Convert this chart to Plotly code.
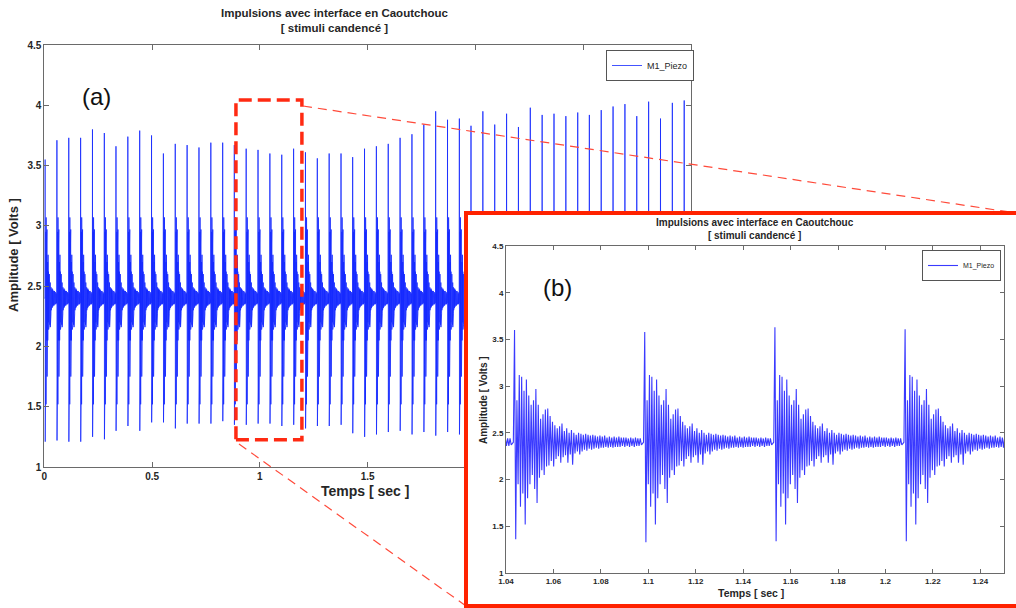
import plotly.graph_objects as go

# ---------------- data ----------------
# main chart (a): onset time, spike maximum and spike minimum of each impulse
pulse_times = [0.003, 0.058, 0.113, 0.168, 0.223, 0.278, 0.332, 0.387, 0.442, 0.497,
               0.552, 0.607, 0.662, 0.717, 0.772, 0.827, 0.881, 0.936, 0.991, 1.046,
               1.101, 1.156, 1.211, 1.266, 1.321, 1.376, 1.430, 1.485, 1.540, 1.595,
               1.650, 1.705, 1.760, 1.815, 1.870, 1.925, 1.979, 2.034, 2.089, 2.144,
               2.199, 2.254, 2.309, 2.364, 2.419, 2.474, 2.528, 2.583, 2.638, 2.693,
               2.748, 2.803, 2.858, 2.913, 2.968]
pulse_tops = [3.55, 3.71, 3.73, 3.73, 3.80, 3.77, 3.66, 3.74, 3.79, 3.75,
              3.60, 3.68, 3.67, 3.65, 3.69, 3.69, 3.67, 3.64, 3.63, 3.60,
              3.59, 3.64, 3.61, 3.56, 3.60, 3.60, 3.57, 3.64, 3.66, 3.68,
              3.73, 3.76, 3.84, 3.95, 3.88, 3.89, 3.83, 3.95, 3.84, 3.93,
              3.82, 3.98, 3.92, 3.93, 3.91, 3.94, 3.92, 3.96, 3.99, 4.01,
              3.91, 4.03, 3.89, 4.02, 4.04]
pulse_bottoms = [1.21, 1.22, 1.21, 1.21, 1.25, 1.23, 1.30, 1.34, 1.30, 1.37,
                 1.37, 1.32, 1.36, 1.36, 1.36, 1.38, 1.35, 1.35, 1.36, 1.36,
                 1.34, 1.35, 1.32, 1.34, 1.34, 1.35, 1.28, 1.25, 1.27, 1.29,
                 1.30, 1.27, 1.29, 1.26, 1.29, 1.27, 1.27, 1.25, 1.28, 1.24,
                 1.26, 1.25, 1.23, 1.27, 1.24, 1.25, 1.22, 1.26, 1.24, 1.23,
                 1.25, 1.22, 1.24, 1.21, 1.23]

# zoomed chart (b): impulses visible in the 1.04 - 1.25 s window
inset_pulse_times = [0.9882, 1.0431, 1.0980, 1.1529, 1.2078]
inset_tops = [3.60, 3.60, 3.58, 3.63, 3.61]
inset_bottoms = [1.35, 1.36, 1.33, 1.34, 1.34]

# ringing after one impulse (b), one value every 0.5 ms (Volts)
ring_step = 0.0005
ring_values = [2.40, 3.60, 1.36, 2.85, 1.95, 3.12, 1.71, 3.10, 1.85, 2.95,
               1.52, 3.07, 1.80, 2.90, 1.95, 2.80, 2.05, 2.85, 1.90, 2.97,
               1.75, 2.80, 2.02, 2.65, 2.10, 2.70, 2.05, 2.75, 2.14, 2.76,
               2.15, 2.68, 2.20, 2.62, 2.14, 2.58, 2.22, 2.55, 2.25, 2.57,
               2.18, 2.60, 2.24, 2.52, 2.26, 2.55, 2.18, 2.50, 2.27, 2.53,
               2.16, 2.50, 2.28, 2.48, 2.30, 2.50, 2.27, 2.49, 2.30, 2.48,
               2.32, 2.49, 2.31, 2.48, 2.33, 2.47, 2.32, 2.48, 2.33, 2.47,
               2.34, 2.46, 2.33, 2.47, 2.34, 2.46, 2.34, 2.47, 2.35, 2.45,
               2.34, 2.46, 2.35, 2.45, 2.34, 2.46, 2.35, 2.45, 2.35, 2.46,
               2.35, 2.45, 2.36, 2.45, 2.35, 2.45, 2.36, 2.44, 2.35, 2.45,
               2.36, 2.44, 2.35, 2.45, 2.36, 2.44, 2.36, 2.44, 2.37]
baseline = 2.40

main_x_ticks = [0, 0.5, 1, 1.5, 2, 2.5, 3]
main_x_labels = ["0", "0.5", "1", "1.5", "2", "2.5", "3"]
y_ticks = [1, 1.5, 2, 2.5, 3, 3.5, 4, 4.5]
y_labels = ["1", "1.5", "2", "2.5", "3", "3.5", "4", "4.5"]
inset_x_ticks = [1.04, 1.06, 1.08, 1.10, 1.12, 1.14, 1.16, 1.18, 1.20, 1.22, 1.24]
inset_x_labels = ["1.04", "1.06", "1.08", "1.1", "1.12", "1.14", "1.16", "1.18", "1.2", "1.22", "1.24"]

title_lines = ["Impulsions avec interface en Caoutchouc", "[ stimuli candencé ]"]
series_name = "M1_Piezo"


def build_signal(times, tops, bottoms, start):
    xs, ys = [start], [baseline]
    for i, (t, top, bot) in enumerate(zip(times, tops, bottoms)):
        nxt = times[i + 1] if i + 1 < len(times) else None
        vals = list(ring_values)
        vals[1], vals[2] = top, bot
        for n, v in enumerate(vals):
            tt = t + n * ring_step
            if nxt is not None and tt >= nxt:
                break
            xs.append(tt)
            ys.append(v)
    return xs, ys


mx, my = build_signal(pulse_times, pulse_tops, pulse_bottoms, 0.0)
ix, iy = build_signal(inset_pulse_times, inset_tops, inset_bottoms, 0.98)

W, H = 1016, 608
def px(x):
    return x / W
def py(y):
    return 1 - y / H

NARROW = "Liberation Sans Narrow, Arial Narrow, Liberation Sans, Arial, sans-serif"
SANS = "Liberation Sans, Arial, sans-serif"
TXT = "#262626"
AX = "#6a6a6a"

fig = go.Figure()
fig.add_trace(go.Scatter(x=mx, y=my, mode="lines", name=series_name,
                         line=dict(color="#1428ff", width=0.8),
                         xaxis="x", yaxis="y", legend="legend", hoverinfo="skip"))
# white panel that carries the zoomed view
fig.add_trace(go.Scatter(x=[-1, 2, 2, -1, -1], y=[-1, -1, 2, 2, -1], mode="lines",
                         fill="toself", fillcolor="white", line=dict(width=0, color="white"),
                         xaxis="x2", yaxis="y2", showlegend=False, hoverinfo="skip"))
fig.add_trace(go.Scatter(x=ix, y=iy, mode="lines", name=series_name,
                         line=dict(color="#3a3aff", width=1.1),
                         xaxis="x3", yaxis="y3", legend="legend2", hoverinfo="skip"))

axis_common = dict(showgrid=False, zeroline=False, showline=True, linecolor=AX, linewidth=1,
                   mirror="allticks", ticks="inside", tickcolor=AX, automargin=False)

fig.update_layout(
    width=W, height=H, margin=dict(l=0, r=0, t=0, b=0, autoexpand=False),
    paper_bgcolor="white", plot_bgcolor="white",
    xaxis=dict(domain=[px(44.3), px(691)], range=[0, 3], anchor="y",
               tickvals=main_x_ticks, ticktext=main_x_labels, ticklen=5,
               tickfont=dict(family=NARROW, size=10, color=TXT, weight="bold"), **axis_common),
    yaxis=dict(domain=[py(467), py(45)], range=[1, 4.5], anchor="x",
               tickvals=y_ticks, ticktext=y_labels, ticklen=5,
               tickfont=dict(family=NARROW, size=10, color=TXT, weight="bold"), **axis_common),
    xaxis2=dict(domain=[px(464), 1.0], range=[0, 1], anchor="y2", visible=False, automargin=False),
    yaxis2=dict(domain=[0.0, py(212)], range=[0, 1], anchor="x2", visible=False, automargin=False),
    xaxis3=dict(domain=[px(506), px(1004)], range=[1.04, 1.25], anchor="y3",
                tickvals=inset_x_ticks, ticktext=inset_x_labels, ticklen=4,
                tickfont=dict(family=NARROW, size=8, color=TXT, weight="bold"), **axis_common),
    yaxis3=dict(domain=[py(573), py(246)], range=[1, 4.5], anchor="x3",
                tickvals=y_ticks, ticktext=y_labels, ticklen=4,
                tickfont=dict(family=NARROW, size=8, color=TXT, weight="bold"), **axis_common),
    legend=dict(x=px(694), y=py(50), xanchor="right", yanchor="top",
                bgcolor="white", bordercolor="#555", borderwidth=1, itemwidth=30,
                font=dict(family=NARROW, size=9, color=TXT)),
    legend2=dict(x=px(1001), y=py(250), xanchor="right", yanchor="top",
                 bgcolor="white", bordercolor="#555", borderwidth=1, itemwidth=30,
                 font=dict(family=NARROW, size=7, color=TXT)),
    showlegend=True,
)

ann = []
ann.append(dict(text="<br>".join(title_lines), x=px(334), y=py(21), xref="paper", yref="paper",
                showarrow=False, xanchor="center", yanchor="middle",
                font=dict(family=NARROW, size=11.5, color=TXT, weight="bold")))
ann.append(dict(text="Temps [ sec ]", x=px(365), y=py(491), xref="paper", yref="paper",
                showarrow=False, xanchor="center", yanchor="middle",
                font=dict(family=NARROW, size=14, color=TXT, weight="bold")))
ann.append(dict(text="Amplitude [ Volts ]", x=px(14), y=py(255), xref="paper", yref="paper",
                showarrow=False, textangle=-90, xanchor="center", yanchor="middle",
                font=dict(family=SANS, size=13, color=TXT, weight="bold")))
ann.append(dict(text="(a)", x=px(96), y=py(97), xref="paper", yref="paper",
                showarrow=False, xanchor="center", yanchor="middle",
                font=dict(family=NARROW, size=24, color="#111")))
ann.append(dict(text="<br>".join(title_lines), x=px(755), y=py(229), xref="paper", yref="paper",
                showarrow=False, xanchor="center", yanchor="middle",
                font=dict(family=SANS, size=10, color=TXT, weight="bold")))
ann.append(dict(text="Temps [ sec ]", x=px(751), y=py(593), xref="paper", yref="paper",
                showarrow=False, xanchor="center", yanchor="middle",
                font=dict(family=SANS, size=10.5, color=TXT, weight="bold")))
ann.append(dict(text="Amplitude [ Volts ]", x=px(483), y=py(400), xref="paper", yref="paper",
                showarrow=False, textangle=-90, xanchor="center", yanchor="middle",
                font=dict(family=SANS, size=10, color=TXT, weight="bold")))
ann.append(dict(text="(b)", x=px(557), y=py(288), xref="paper", yref="paper",
                showarrow=False, xanchor="center", yanchor="middle",
                font=dict(family=NARROW, size=24, color="#111")))
fig.update_layout(annotations=ann)

shapes = [
    dict(type="rect", xref="x", yref="y", x0=0.889, x1=1.195, y0=1.225, y1=4.044,
         line=dict(color="#ff2a12", width=3.5, dash="13px,6px"), layer="above"),
    dict(type="line", xref="paper", yref="paper", x0=px(303), y0=py(106), x1=1.0, y1=py(213),
         line=dict(color="#ff4a3a", width=1.2, dash="9px,6px"), layer="above"),
    dict(type="line", xref="paper", yref="paper", x0=px(239), y0=py(444), x1=px(466), y1=py(606),
         line=dict(color="#ff4a3a", width=1.2, dash="9px,6px"), layer="above"),
    dict(type="rect", xref="paper", yref="paper", x0=px(466), x1=1.02, y0=py(606), y1=py(213),
         line=dict(color="#ff2200", width=4), fillcolor="rgba(0,0,0,0)", layer="above"),
]
fig.update_layout(shapes=shapes)

fig.write_html("out.html", config={"displayModeBar": False},
               post_script="document.body.style.margin='0';")
